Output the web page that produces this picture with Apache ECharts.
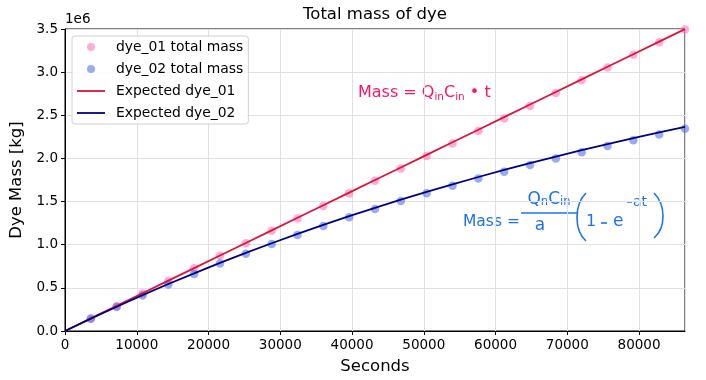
<!DOCTYPE html>
<html><head><meta charset="utf-8">
<script src="https://cdn.jsdelivr.net/npm/echarts@6/dist/echarts.min.js"></script>
<style>html,body{margin:0;padding:0;background:#fff}#c{width:706px;height:380px}</style>
</head><body><div id="c"></div>
<script>
// time of each sample [s]
const pointSeconds = [3600,7200,10800,14400,18000,21600,25200,28800,32400,36000,39600,43200,46800,50400,54000,57600,61200,64800,68400,72000,75600,79200,82800,86400];
const lineSeconds = [0,3600,7200,10800,14400,18000,21600,25200,28800,32400,36000,39600,43200,46800,50400,54000,57600,61200,64800,68400,72000,75600,79200,82800,86400];
// measured total mass [1e6 kg]
const dye01Mass = [0.145,0.290,0.436,0.581,0.726,0.871,1.016,1.161,1.305,1.450,1.595,1.740,1.884,2.029,2.174,2.318,2.463,2.607,2.758,2.907,3.055,3.201,3.345,3.494];
const dye02Mass = [0.142,0.279,0.411,0.539,0.662,0.781,0.896,1.007,1.114,1.217,1.317,1.413,1.506,1.596,1.683,1.766,1.847,1.925,2.000,2.073,2.143,2.211,2.277,2.343];
// expected mass [1e6 kg]
const expected01 = [0,0.1458,0.2916,0.4374,0.5832,0.7290,0.8748,1.0206,1.1664,1.3122,1.4580,1.6038,1.7496,1.8954,2.0412,2.1870,2.3328,2.4786,2.6244,2.7702,2.9160,3.0618,3.2076,3.3534,3.4992];
const expected02 = [0,0.1433,0.2816,0.4152,0.5442,0.6686,0.7889,0.9049,1.0170,1.1251,1.2296,1.3304,1.4278,1.5218,1.6125,1.7002,1.7848,1.8665,1.9453,2.0215,2.0950,2.1659,2.2344,2.3006,2.3645];
const seriesNames = ['dye_01 total mass','dye_02 total mass','Expected dye_01','Expected dye_02'];

const FF = 'DejaVu Sans';
const zip = (xs, ys) => xs.map((x, i) => [x, ys[i]]);
const chart = echarts.init(document.getElementById('c'), null, {renderer: 'canvas'});
const pink = '#ff1464', blue = '#1b72f2';
const lineIcon = 'path://M0,0 L28,0 L28,1.8 L0,1.8 Z';
chart.setOption({
  animation: false,
  backgroundColor: '#fff',
  grid: {left: 65, right: 21, top: 29, bottom: 43, show: true, borderColor: '#000', borderWidth: 1, backgroundColor: 'transparent'},
  xAxis: {
    type: 'value', min: 0, max: 86400, interval: 10000,
    name: 'Seconds', nameLocation: 'middle', nameGap: 27,
    nameTextStyle: {fontFamily: FF, fontSize: 16.5, color: '#000'},
    axisLine: {show: true, lineStyle: {color: '#000', width: 1}},
    axisTick: {show: true, length: 4, lineStyle: {color: '#000'}},
    axisLabel: {fontFamily: FF, fontSize: 13.5, color: '#000', margin: 7, showMaxLabel: false, formatter: v => String(v)},
    splitLine: {show: true, lineStyle: {color: '#e0e0e0', width: 1}}
  },
  yAxis: {
    type: 'value', min: 0, max: 3.5, interval: 0.5,
    name: 'Dye Mass [kg]', nameLocation: 'middle', nameGap: 37,
    nameTextStyle: {fontFamily: FF, fontSize: 16.5, color: '#000'},
    axisLine: {show: true, lineStyle: {color: '#000', width: 1}},
    axisTick: {show: true, length: 4, lineStyle: {color: '#000'}},
    axisLabel: {fontFamily: FF, fontSize: 13.5, color: '#000', margin: 7, formatter: v => v.toFixed(1)},
    splitLine: {show: true, lineStyle: {color: '#e0e0e0', width: 1}}
  },
  legend: {
    data: [
      {name: seriesNames[0], icon: 'circle'},
      {name: seriesNames[1], icon: 'circle'},
      {name: seriesNames[2], icon: lineIcon},
      {name: seriesNames[3], icon: lineIcon}
    ],
    orient: 'vertical', left: 72, top: 36, padding: [4, 5, 4, 5], itemGap: 8,
    itemWidth: 28, itemHeight: 8,
    backgroundColor: 'rgba(255,255,255,0.85)', borderColor: '#d0d0d0', borderWidth: 1, borderRadius: 3,
    textStyle: {fontFamily: FF, fontSize: 13.9, color: '#000', lineHeight: 14, padding: [0, 0, 0, 6]}
  },
  series: [
    {name: seriesNames[0], type: 'scatter', data: zip(pointSeconds, dye01Mass), symbolSize: 8.5,
     itemStyle: {color: '#ff69b4', opacity: 0.55}},
    {name: seriesNames[1], type: 'scatter', data: zip(pointSeconds, dye02Mass), symbolSize: 8.5,
     itemStyle: {color: '#4169e1', opacity: 0.55}},
    {name: seriesNames[2], type: 'line', data: zip(lineSeconds, expected01), symbol: 'none', showSymbol: false,
     lineStyle: {color: '#dc143c', width: 1.8}, itemStyle: {color: '#dc143c'}},
    {name: seriesNames[3], type: 'line', data: zip(lineSeconds, expected02), symbol: 'none', showSymbol: false,
     lineStyle: {color: '#000080', width: 1.8}, itemStyle: {color: '#000080'}}
  ],
  graphic: [
    {type: 'text', x: 375, y: 15, style: {text: 'Total mass of dye', fontFamily: FF, fontSize: 16.5, fill: '#000', align: 'center', verticalAlign: 'middle'}},
    {type: 'text', x: 65, y: 19, style: {text: '1e6', fontFamily: FF, fontSize: 13.5, fill: '#000', align: 'left', verticalAlign: 'middle'}},
    {type: 'text', x: 358, y: 93, style: {
      text: '{m|Mass = Q}{s|in}{m|C}{s|in}{m| • t}', fontFamily: FF, verticalAlign: 'middle',
      rich: {m: {fontFamily: FF, fontSize: 16, fill: pink}, s: {fontFamily: FF, fontSize: 10.5, fill: pink, padding: [9, 0, 0, 0]}}}},
    {type: 'text', x: 463, y: 222, style: {text: 'Mass =', fontFamily: FF, fontSize: 15.5, fill: blue, verticalAlign: 'middle'}},
    {type: 'text', x: 549, y: 200, style: {
      text: '{m|Q}{s|n}{m|C}{s|in}', fontFamily: FF, align: 'center', verticalAlign: 'middle',
      rich: {m: {fontFamily: FF, fontSize: 17, fill: blue}, s: {fontFamily: FF, fontSize: 11.5, fill: blue, padding: [4, 0, 0, 0]}}}},
    {type: 'line', shape: {x1: 521, y1: 213, x2: 577, y2: 213}, style: {stroke: blue, lineWidth: 1.4}},
    {type: 'text', x: 540, y: 226, style: {text: 'a', fontFamily: FF, fontSize: 17, fill: blue, align: 'center', verticalAlign: 'middle'}},
    {type: 'bezierCurve', shape: {x1: 586, y1: 193, cpx1: 574, cpy1: 205, cpx2: 574, cpy2: 230, x2: 586, y2: 241}, style: {stroke: blue, lineWidth: 1.6, fill: null}},
    {type: 'text', x: 586, y: 222, style: {text: '1', fontFamily: FF, fontSize: 16, fill: blue, verticalAlign: 'middle'}},
    {type: 'line', shape: {x1: 601, y1: 223, x2: 607, y2: 223}, style: {stroke: blue, lineWidth: 1.6}},
    {type: 'text', x: 613, y: 222, style: {text: 'e', fontFamily: FF, fontSize: 17, fill: blue, verticalAlign: 'middle'}},
    {type: 'line', shape: {x1: 627, y1: 202, x2: 632, y2: 202}, style: {stroke: blue, lineWidth: 1.5}},
    {type: 'text', x: 633, y: 202, style: {text: 'at', fontFamily: FF, fontSize: 14, fill: blue, verticalAlign: 'middle'}},
    {type: 'bezierCurve', shape: {x1: 654, y1: 193, cpx1: 666, cpy1: 205, cpx2: 666, cpy2: 228, x2: 654, y2: 238}, style: {stroke: blue, lineWidth: 1.6, fill: null}}
  ]
});
</script>
</body></html>
